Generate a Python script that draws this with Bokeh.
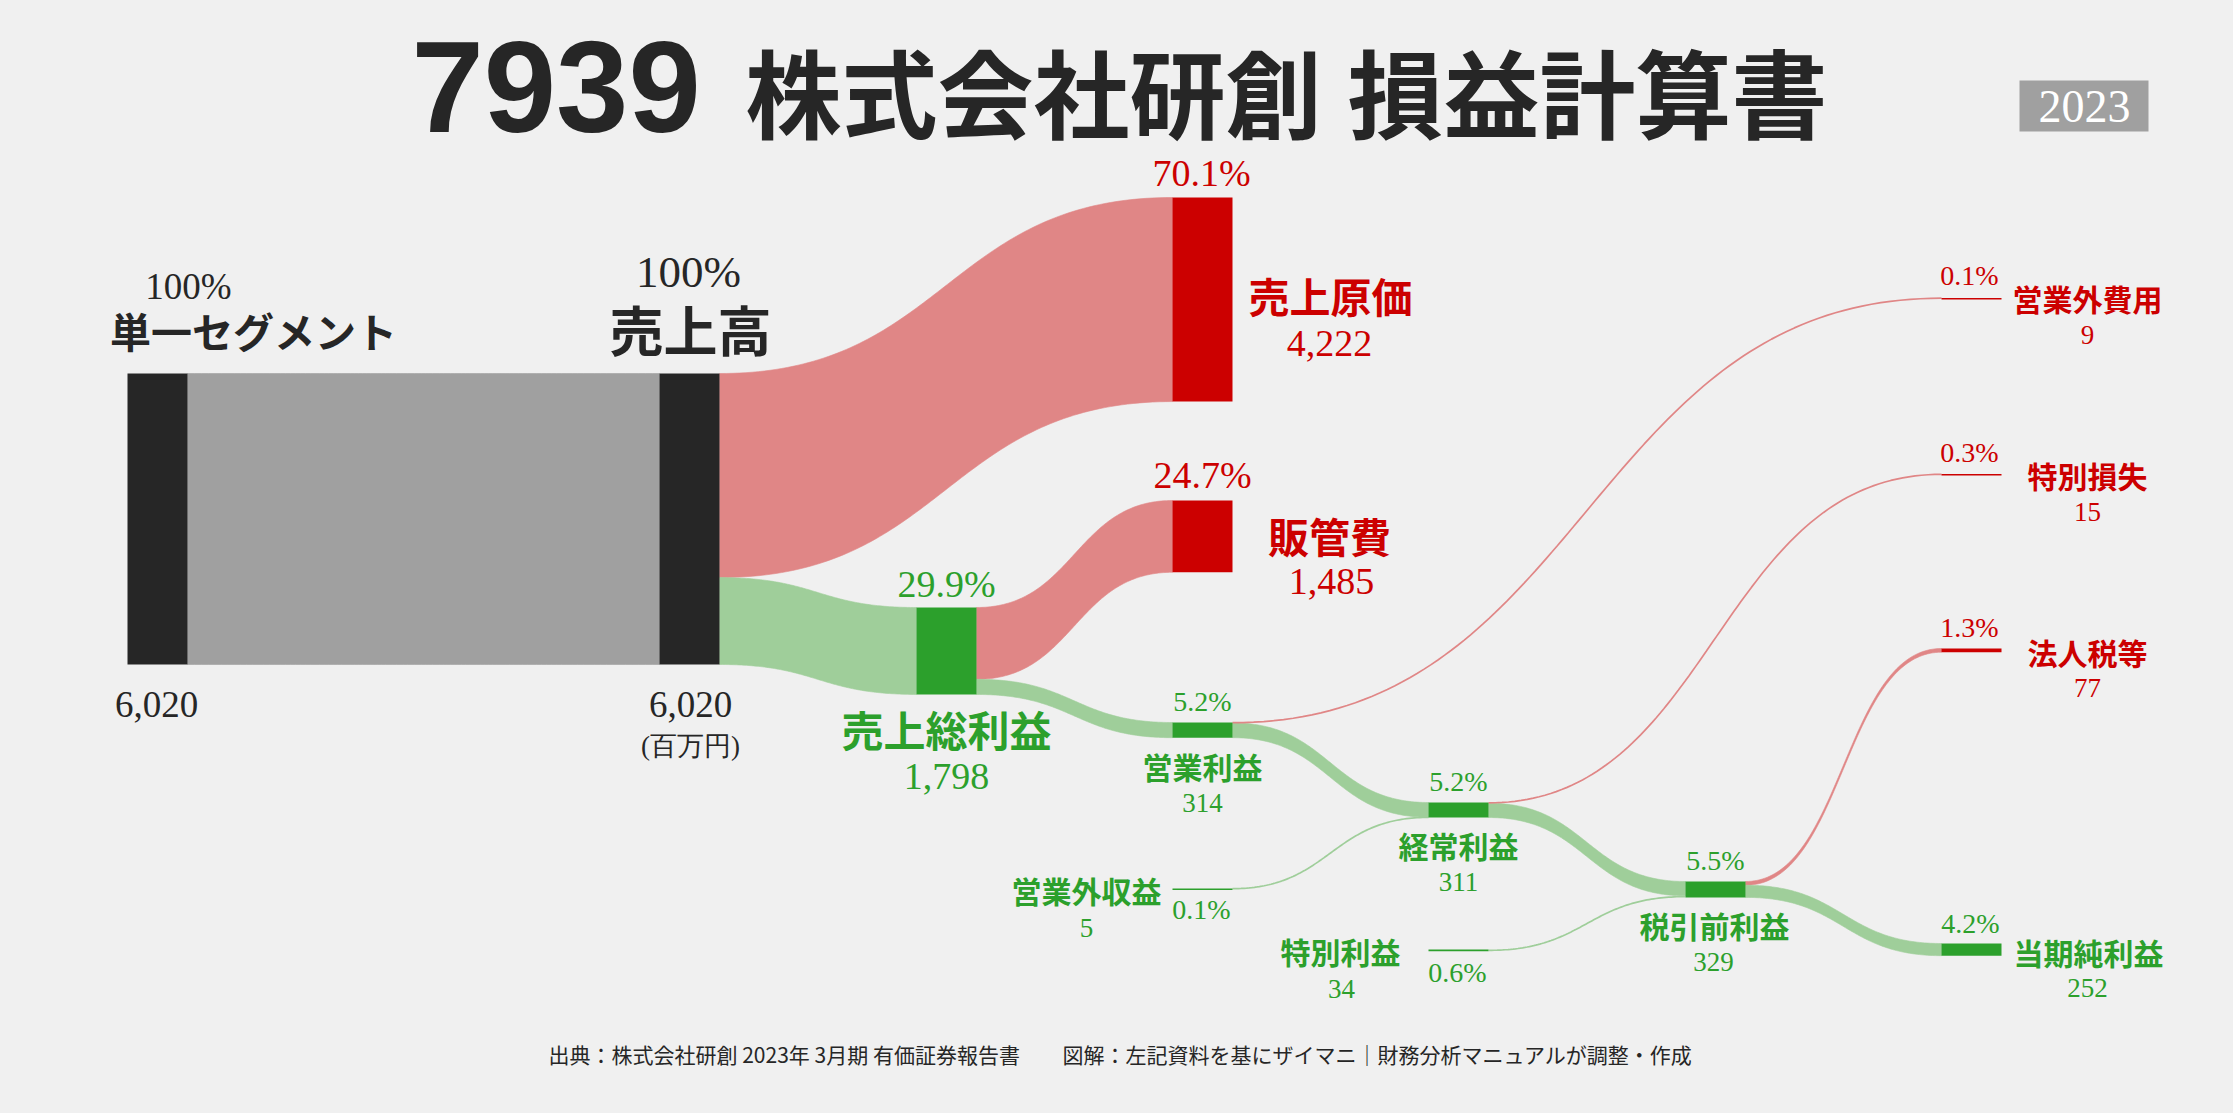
import numpy as np
from bokeh.plotting import figure
from bokeh.models import ColumnDataSource, Range1d
from bokeh.embed import file_html
from bokeh.resources import INLINE
from bokeh.core.properties import value, field

# ---------------- data ----------------
title_code = "7939"
title_parts = ["株式会社研創", "損益計算書"]
year = "2023"
unit_label = "(百万円)"
source_note = "出典：株式会社研創 2023年 3月期 有価証券報告書"
credit_note = "図解：左記資料を基にザイマニ｜財務分析マニュアルが調整・作成"

node_names = ["単一セグメント", "売上高", "売上原価", "販管費", "売上総利益", "営業利益",
              "営業外費用", "営業外収益", "経常利益", "特別損失", "特別利益",
              "税引前利益", "法人税等", "当期純利益"]
node_values = [6020, 6020, 4222, 1485, 1798, 314, 9, 5, 311, 15, 34, 329, 77, 252]
node_pcts = ["100%", "100%", "70.1%", "24.7%", "29.9%", "5.2%", "0.1%", "0.1%",
             "5.2%", "0.3%", "0.6%", "5.5%", "1.3%", "4.2%"]
node_kinds = ["base", "base", "cost", "cost", "profit", "profit", "cost", "profit",
              "profit", "cost", "profit", "profit", "cost", "profit"]

link_sources = ["単一セグメント", "売上高", "売上高", "売上総利益", "売上総利益", "営業利益", "営業利益",
                "営業外収益", "経常利益", "経常利益", "特別利益", "税引前利益", "税引前利益"]
link_targets = ["売上高", "売上原価", "売上総利益", "販管費", "営業利益", "営業外費用", "経常利益",
                "経常利益", "特別損失", "税引前利益", "税引前利益", "法人税等", "当期純利益"]
link_values = [6020, 4222, 1798, 1485, 314, 9, 305, 5, 15, 296, 34, 77, 252]

# ---------------- layout / style ----------------
W, H = 2217, 1097
BG = "#f0f0f0"
node_color = {"base": "#262626", "cost": "#cc0000", "profit": "#2ca02c"}
link_color = {"base": "#a0a0a0", "cost": "#e08686", "profit": "#9fce9a"}
text_color = {"base": "#262626", "cost": "#cc0000", "profit": "#2ca02c"}

col_x = [127, 659, 916, 1172, 1428, 1685, 1941]
node_w = 60
px_per_unit = 291 / 6020
min_h = 1.6
node_col = [0, 1, 3, 3, 2, 3, 6, 3, 4, 6, 4, 5, 6, 6]
node_top = [373, 373, 197, 500, 607, 722, 297.5, 888, 802, 473.5, 949, 881, 648, 943]

# label placement: pct (x, y, size), name (x, y, size), value (x, y, size)
label_pos = {
    "単一セグメント": ((188, 286, 37), (253, 329, 41), (156, 704, 37)),
    "売上高": ((688, 271, 45), (690, 328, 54), (690, 704, 37)),
    "売上原価": ((1201, 172, 38), (1330, 294, 41), (1329, 343, 38)),
    "販管費": ((1202, 474, 38), (1329, 534, 41), (1331, 581, 38)),
    "売上総利益": ((946, 583, 38), (946, 728, 42), (946, 776, 38)),
    "営業利益": ((1202, 701, 28), (1202, 765, 30), (1202, 802, 27)),
    "経常利益": ((1458, 781, 28), (1458, 844, 30), (1458, 881, 27)),
    "税引前利益": ((1715, 860, 28), (1714, 924, 30), (1713, 961, 27)),
    "当期純利益": ((1970, 923, 28), (2088, 951, 30), (2087, 987, 27)),
    "営業外費用": ((1969, 275, 28), (2087, 297, 30), (2087, 334, 27)),
    "特別損失": ((1969, 452, 28), (2087, 474, 30), (2087, 511, 27)),
    "法人税等": ((1969, 627, 28), (2087, 651, 30), (2087, 687, 27)),
    "営業外収益": ((1201, 909, 28), (1086, 889, 30), (1086, 927, 27)),
    "特別利益": ((1457, 972, 28), (1340, 950, 30), (1341, 988, 27)),
}
unit_pos = (690, 745, 27)
title_code_pos = (411, 86, 130)
title_x = [745, 1347]
title_y = 89

SERIF = value("Liberation Serif")
SANS = value("Noto Sans CJK JP")

p = figure(width=W, height=H, x_range=Range1d(0, W), y_range=Range1d(H, 0),
           output_backend="svg", toolbar_location=None, x_axis_type=None, y_axis_type=None,
           min_border=0, background_fill_color=BG, border_fill_color=BG)
p.outline_line_color = None
p.xgrid.visible = False
p.ygrid.visible = False

idx = {n: i for i, n in enumerate(node_names)}
heights = [max(v * px_per_unit, min_h) for v in node_values]

# ---------------- links ----------------
out_off = {n: 0.0 for n in node_names}
in_off = {n: 0.0 for n in node_names}
t = np.linspace(0, 1, 100)


def cubic(a, c1, c2, b):
    return a * (1 - t) ** 3 + 3 * c1 * (1 - t) ** 2 * t + 3 * c2 * (1 - t) * t ** 2 + b * t ** 3


patch_xs, patch_ys, patch_cols = [], [], []
line_xs, line_ys, line_cols = [], [], []
for s, d, v in zip(link_sources, link_targets, link_values):
    si, di = idx[s], idx[d]
    th = v * px_per_unit
    x0 = col_x[node_col[si]] + node_w
    x1 = col_x[node_col[di]]
    y0 = node_top[si] + out_off[s]
    y1 = node_top[di] + in_off[d]
    out_off[s] += th
    in_off[d] += th
    xm = (x0 + x1) / 2
    xs = cubic(x0, xm, xm, x1)
    col = link_color[node_kinds[di]]
    if th < 2.0:
        line_xs.append(list(xs))
        line_ys.append(list(cubic(y0 + th / 2, y0 + th / 2, y1 + th / 2, y1 + th / 2)))
        line_cols.append(col)
    else:
        top = cubic(y0, y0, y1, y1)
        bot = cubic(y0 + th, y0 + th, y1 + th, y1 + th)
        patch_xs.append(list(xs) + list(xs[::-1]))
        patch_ys.append(list(top) + list(bot[::-1]))
        patch_cols.append(col)

p.patches(xs="xs", ys="ys", fill_color="c", line_color="c", line_width=0.6,
          source=ColumnDataSource(dict(xs=patch_xs, ys=patch_ys, c=patch_cols)))
p.multi_line(xs="xs", ys="ys", line_color="c", line_width=1.7,
             source=ColumnDataSource(dict(xs=line_xs, ys=line_ys, c=line_cols)))

# ---------------- nodes ----------------
nsrc = ColumnDataSource(dict(
    left=[col_x[c] for c in node_col],
    right=[col_x[c] + node_w for c in node_col],
    top=node_top,
    bottom=[node_top[i] + heights[i] for i in range(len(node_names))],
    c=[node_color[k] for k in node_kinds],
))
p.quad(left="left", right="right", top="top", bottom="bottom", fill_color="c",
       line_color=None, source=nsrc)

# year badge
p.quad(left=[2019], right=[2148], top=[80], bottom=[131], fill_color="#a0a0a0", line_color=None)

# ---------------- labels ----------------
def tsrc(which, texts):
    xs, ys, ss, cs = [], [], [], []
    for n, k in zip(node_names, node_kinds):
        x, y, s = label_pos[n][which]
        xs.append(x); ys.append(y); ss.append(f"{s}px"); cs.append(text_color[k])
    return ColumnDataSource(dict(x=xs, y=ys, text=texts, size=ss, color=cs))

p.text(x="x", y="y", text="text", source=tsrc(0, node_pcts), text_font=SERIF,
       text_font_size=field("size"), text_color=field("color"),
       text_align="center", text_baseline="middle")
p.text(x="x", y="y", text="text", source=tsrc(1, node_names), text_font=SANS,
       text_font_style="bold", text_font_size=field("size"), text_color=field("color"),
       text_align="center", text_baseline="middle")
p.text(x="x", y="y", text="text", source=tsrc(2, [f"{v:,}" for v in node_values]),
       text_font=SERIF, text_font_size=field("size"), text_color=field("color"),
       text_align="center", text_baseline="middle")

# serif extras: unit label and year
serif_src = ColumnDataSource(dict(x=[unit_pos[0], 2084], y=[unit_pos[1], 106],
                                  text=[unit_label, year],
                                  size=[f"{unit_pos[2]}px", "46px"],
                                  color=["#262626", "#ffffff"]))
p.text(x="x", y="y", text="text", source=serif_src, text_font=SERIF,
       text_font_size=field("size"), text_color=field("color"),
       text_align="center", text_baseline="middle")

# footer
foot_src = ColumnDataSource(dict(x=[548, 1062], y=[1053, 1053], text=[source_note, credit_note]))
p.text(x="x", y="y", text="text", source=foot_src, text_font=SANS,
       text_font_size="21px", text_color="#262626", text_align="left",
       text_baseline="middle")

# title (drawn piece by piece)
p.text(x=[title_code_pos[0]], y=[title_code_pos[1]], text=[title_code],
       text_font=value("Liberation Sans"), text_font_style="bold",
       text_font_size=f"{title_code_pos[2]}px", text_color="#262626",
       text_align="left", text_baseline="alphabetic")
for tx, part in zip(title_x, title_parts):
    p.text(x=[tx], y=[title_y], text=[part], text_font=SANS, text_font_style="bold",
           text_font_size="96px", text_color="#262626", text_align="left",
           text_baseline="middle")

html = file_html(p, INLINE)
html = html.replace("<head>", "<head><style>body{background:#f0f0f0;}</style>", 1)
open("out.html", "w").write(html)
